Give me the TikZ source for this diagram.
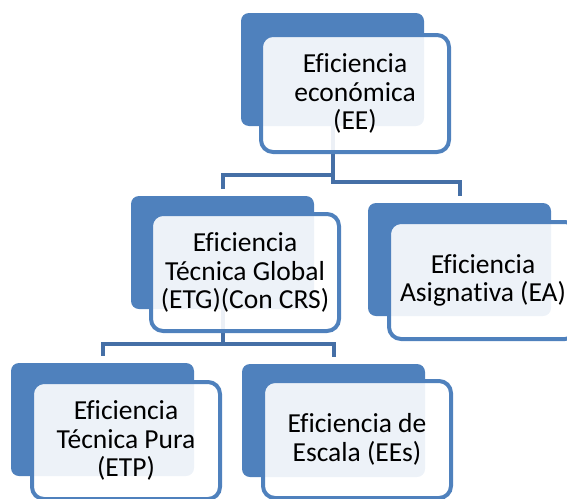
\documentclass[tikz,border=0pt]{standalone}
\usepackage{fontspec}
\setmainfont{Carlito}[Ligatures=NoCommon]
\usetikzlibrary{positioning,calc}
\definecolor{boxblue}{RGB}{79,129,189}
\definecolor{linkblue}{RGB}{69,111,166}

\begin{document}
\begin{tikzpicture}[x=1pt,y=-1pt,
  back/.style={fill=boxblue,rounded corners=8pt,anchor=north west,inner sep=0pt,outer sep=0pt,minimum width=183pt,minimum height=113pt},
  front/.style={draw=boxblue,line width=4pt,fill=white,fill opacity=.9,text opacity=1,rounded corners=12pt,anchor=north west,inner sep=0pt,minimum width=188pt,minimum height=117pt,align=center,font=\fontsize{27.5}{28.5}\selectfont},
  conn/.style={draw=linkblue,line width=4pt,shorten >=7pt}]
\clip (0,0) rectangle (567,498);
\node[back] (ee) at (241,13) {};
\node[back] (etg) at (131,196) {};
\node[back] (ea) at (368,203) {};
\node[back] (etp) at (11,363) {};
\node[back] (ees) at (242,364) {};
\draw[conn] (ee.south) -- ++(0,49) -| (etg.north);
\draw[conn] (ee.south) -- ++(0,56) -| (ea.north);
\draw[conn] (etg.south) -- ++(0,35) -| (etp.north);
\draw[conn] (etg.south) -- ++(0,35) -| (ees.north);
\node[front] (eeT) at (259,33) {Eficiencia\\económica\\(EE)};
\node[front] (etgT) at (149,212) {Eficiencia\\Técnica Global\\(ETG)(Con CRS)};
\node[front] (eaT) at (387,220) {Eficiencia\\Asignativa (EA)};
\node[front] (etpT) at (30,380) {Eficiencia\\Técnica Pura\\(ETP)};
\node[front] (eesT) at (261,379) {Eficiencia de\\Escala (EEs)};
\end{tikzpicture}
\end{document}
